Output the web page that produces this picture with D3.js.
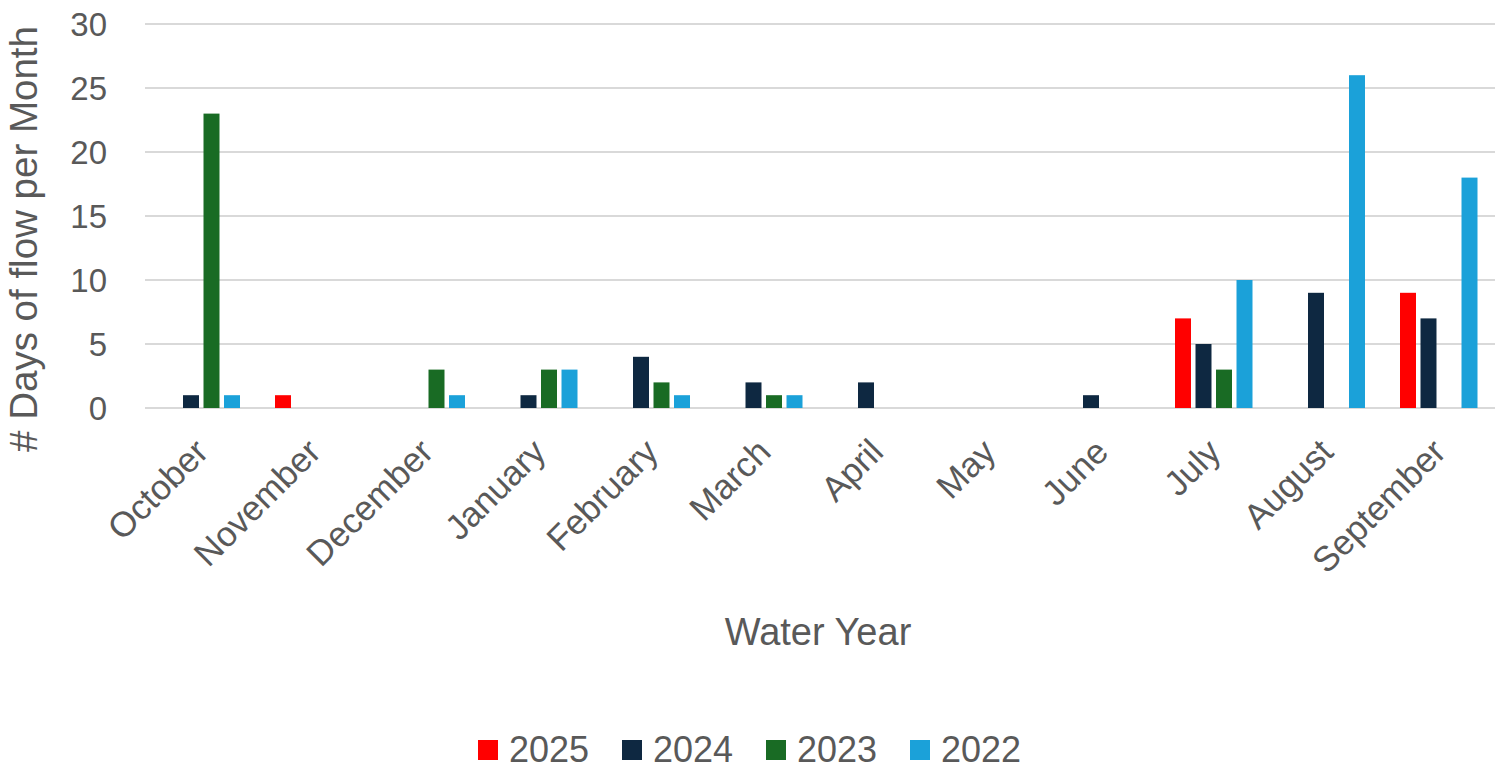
<!DOCTYPE html>
<html>
<head>
<meta charset="utf-8">
<script src="https://cdn.jsdelivr.net/npm/d3@7"></script>
<style>
  html, body { margin: 0; padding: 0; background: #fff; }
  text { font-family: "Liberation Sans", Arial, sans-serif; fill: #595959; }
</style>
</head>
<body>
<svg id="chart" width="1502" height="772"></svg>
<script>
const months = ['October', 'November', 'December', 'January', 'February', 'March',
  'April', 'May', 'June', 'July', 'August', 'September'];
const years = ['2025', '2024', '2023', '2022'];
const days2025 = [0, 1, 0, 0, 0, 0, 0, 0, 0, 7, 0, 9];
const days2024 = [1, 0, 0, 1, 4, 2, 2, 0, 1, 5, 9, 7];
const days2023 = [23, 0, 3, 3, 2, 1, 0, 0, 0, 3, 0, 0];
const days2022 = [1, 0, 1, 3, 1, 1, 0, 0, 0, 10, 26, 18];
const yTicks = [0, 5, 10, 15, 20, 25, 30];
const colours = ['#ff0000', '#0e2841', '#196b24', '#1ba1d9'];

const series = [days2025, days2024, days2023, days2022];

const svg = d3.select('#chart');

const plotLeft = 145;
const plotRight = 1495;
const plotTop = 24;
const plotBottom = 408;

const x0 = d3.scaleBand().domain(months).range([plotLeft, plotRight]);
const x1 = d3.scaleBand().domain(years).range([-38.75, 38.75]).paddingInner(0.22);
const y = d3.scaleLinear().domain([0, 30]).range([plotBottom, plotTop]);
const colour = d3.scaleOrdinal().domain(years).range(colours);

// gridlines
svg.append('g')
  .selectAll('line')
  .data(yTicks)
  .enter()
  .append('line')
  .attr('x1', plotLeft)
  .attr('x2', plotRight)
  .attr('y1', d => y(d))
  .attr('y2', d => y(d))
  .attr('stroke', '#d9d9d9')
  .attr('stroke-width', 2);

// y axis labels
const yAxis = svg.append('g')
  .attr('transform', `translate(${plotLeft - 38},0)`)
  .call(d3.axisLeft(y).tickValues(yTicks).tickSize(0).tickPadding(0));
yAxis.select('.domain').remove();
yAxis.selectAll('text')
  .attr('font-size', 33)
  .attr('dy', '0.36em')
  .style('font-family', '"Liberation Sans", Arial, sans-serif')
  .attr('fill', '#595959');

// bars
const rows = months.map((m, i) => ({ month: m, values: years.map((yr, j) => ({ year: yr, value: series[j][i] })) }));

const groups = svg.append('g')
  .selectAll('g')
  .data(rows)
  .enter()
  .append('g')
  .attr('transform', d => `translate(${x0(d.month) + x0.bandwidth() / 2},0)`);

groups.selectAll('rect')
  .data(d => d.values.filter(v => v.value > 0))
  .enter()
  .append('rect')
  .attr('x', d => x1(d.year))
  .attr('width', x1.bandwidth())
  .attr('y', d => y(d.value))
  .attr('height', d => y(0) - y(d.value))
  .attr('fill', d => colour(d.year));

// x axis labels
const xAxis = svg.append('g')
  .attr('transform', `translate(0,${plotBottom})`)
  .call(d3.axisBottom(x0).tickSize(0).tickPadding(0));
xAxis.select('.domain').remove();
xAxis.selectAll('text')
  .attr('font-size', 35)
  .style('font-family', '"Liberation Sans", Arial, sans-serif')
  .attr('fill', '#595959')
  .attr('text-anchor', 'end')
  .attr('dy', null)
  .attr('y', 0)
  .attr('transform', 'translate(9,46) rotate(-45)');

// axis titles
svg.append('text')
  .attr('x', 818)
  .attr('y', 645)
  .attr('text-anchor', 'middle')
  .attr('font-size', 38)
  .text('Water Year');

svg.append('text')
  .attr('transform', 'translate(37,239) rotate(-90)')
  .attr('text-anchor', 'middle')
  .attr('font-size', 38.5)
  .text('# Days of flow per Month');

// legend
const legend = svg.append('g')
  .selectAll('g')
  .data(years)
  .enter()
  .append('g')
  .attr('transform', (d, i) => `translate(${478 + i * 144},750)`);

legend.append('rect')
  .attr('x', 0)
  .attr('y', -10)
  .attr('width', 20)
  .attr('height', 20)
  .attr('fill', d => colour(d));

legend.append('text')
  .attr('x', 31)
  .attr('y', 12)
  .attr('font-size', 36)
  .text(d => d);
</script>
</body>
</html>
